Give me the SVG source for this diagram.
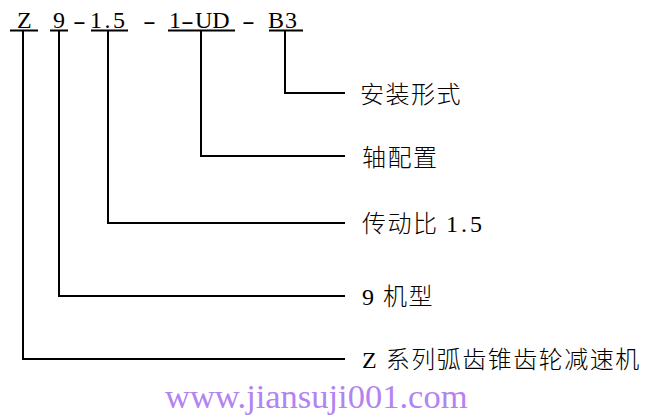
<svg xmlns="http://www.w3.org/2000/svg" width="650" height="420" viewBox="0 0 650 420">
<style>
.code{font-family:"Liberation Serif","Times New Roman",serif;font-size:24px;fill:#000}
.lbl{font-family:"Liberation Serif","Noto Sans CJK SC",serif;font-size:24px;fill:#000;letter-spacing:1.5px;font-weight:300}
.wm{font-family:"Liberation Serif","Times New Roman",serif;font-size:34.5px;fill:#b383f2}
.ln{stroke:#000;stroke-width:2;fill:none}
</style>
<rect width="650" height="420" fill="#fff"/>
<g id="code">
<text class="code" x="17" y="28">Z</text>
<text class="code" x="53" y="28">9</text>
<text class="code" transform="translate(73 29) scale(1.6 1)">-</text>
<text class="code" x="90" y="28" style="letter-spacing:2.5px">1.5</text>
<text class="code" transform="translate(143 29) scale(1.6 1)">-</text>
<text class="code" x="169" y="28">1</text>
<text class="code" transform="translate(181 29) scale(1.6 1)">-</text>
<text class="code" x="195" y="28">UD</text>
<text class="code" transform="translate(242 29) scale(1.6 1)">-</text>
<text class="code" x="268" y="28" style="letter-spacing:1px">B3</text>
</g>
<g id="connectors">
<path class="ln" d="M10 30.5H38M23 30.5V359H345"/>
<path class="ln" d="M50 30.5H68M59 30.5V296H345"/>
<path class="ln" d="M91 30.5H128M108 30.5V223H345"/>
<path class="ln" d="M168 30.5H235M201 30.5V156H345"/>
<path class="ln" d="M269 30.5H303M285 30.5V93H345"/>
</g>
<g id="node-mounting"><text class="lbl" x="360" y="103">安装形式</text></g>
<g id="node-shaft"><text class="lbl" x="362" y="166">轴配置</text></g>
<g id="node-ratio"><text class="lbl" x="362" y="232">传动比 <tspan style="letter-spacing:3px">1.5</tspan></text></g>
<g id="node-size"><text class="lbl" x="362" y="305">9 机型</text></g>
<g id="node-series"><text class="lbl" x="362" y="368">Z 系列弧齿锥齿轮减速机</text></g>
<text class="wm" x="165" y="408">www.jiansuji001.com</text>
</svg>
